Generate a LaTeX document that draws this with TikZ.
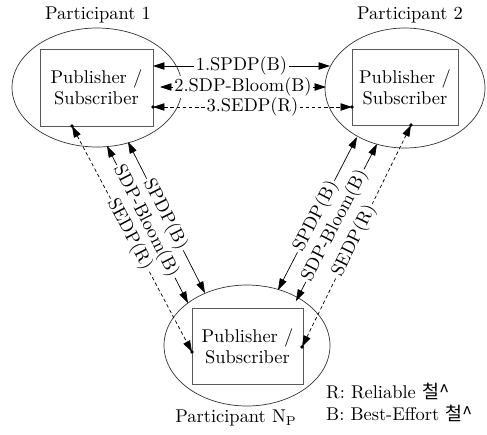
\documentclass[tikz,border=0pt]{standalone}
\usepackage{fontspec}
\newfontfamily\kor{Noto Sans CJK KR}
\usetikzlibrary{arrows.meta,shapes.geometric}

\begin{document}
\begin{tikzpicture}[x=0.02cm,y=-0.02cm,
    font=\fontsize{10.5}{12}\selectfont,
    part/.style={draw=black!80,thin,ellipse,inner sep=0pt},
    pubsub/.style={draw=black!65,thin,rectangle,align=center,inner sep=0pt},
    msg/.style={thin,{Triangle[length=6.5pt,width=4.2pt]}-{Triangle[length=6.5pt,width=4.2pt]}},
    ctl/.style={msg,dash pattern=on 2pt off 1.5pt},
    lbl/.style={fill=white,inner sep=1pt},
    slbl/.style={fill=white,inner xsep=1pt,inner ysep=0pt,sloped,pos=0.48},
    dot/.style={circle,fill=black,inner sep=0pt,minimum size=2.2pt}]

  \useasboundingbox (0,0) rectangle (487,434);

  % participants
  \node[part,minimum width=3.4cm,minimum height=2.38cm] (e1) at (97,87.5) {};
  \node[part,minimum width=3.2cm,minimum height=2.4cm] (e2) at (405,88) {};
  \node[part,minimum width=3.32cm,minimum height=2.42cm] (e3) at (247,345.5) {};

  \node[pubsub,minimum width=2.26cm,minimum height=1.54cm] (b1) at (96.5,87.5) {Publisher /\\Subscriber};
  \node[pubsub,minimum width=2.12cm,minimum height=1.52cm] (b2) at (405,87) {Publisher /\\Subscriber};
  \node[pubsub,minimum width=2.22cm,minimum height=1.52cm] (b3) at (247.5,346) {Publisher /\\Subscriber};

  \node (n1) at (98,15) {Participant 1};
  \node (n2) at (410,15) {Participant 2};
  \node (n3) at (236,418) {Participant N$_{\mathrm{P}}$};

  % end points on the borders
  \coordinate (h1a) at (153,66);   \coordinate (h1b) at (330,66);
  \coordinate (h2a) at (160,87);   \coordinate (h2b) at (326,87);
  \coordinate (h3a) at (153,107);  \coordinate (h3b) at (352,107);
  \coordinate (l1a) at (128,142);  \coordinate (l1b) at (205,293);
  \coordinate (l2a) at (107,146);  \coordinate (l2b) at (188,303);
  \coordinate (l3a) at (72,126);   \coordinate (l3b) at (192,352);
  \coordinate (r1a) at (278,290);  \coordinate (r1b) at (357,137);
  \coordinate (r2a) at (296,301);  \coordinate (r2b) at (377,144);
  \coordinate (r3a) at (302,347);  \coordinate (r3b) at (411,125);

  % participant 1 <-> participant 2
  \draw[msg] (h1a) -- node[lbl] (t1) {1.SPDP(B)} (h1b);
  \draw[msg] (h2a) -- node[lbl] (t2) {2.SDP-Bloom(B)} (h2b);
  \draw[ctl] (h3a) -- node[lbl] (t3) {3.SEDP(R)} (h3b);

  % participant 1 <-> participant N
  \draw[msg] (l1a) -- node[slbl] (t4) {SPDP(B)} (l1b);
  \draw[msg] (l2a) -- node[slbl] (t5) {SDP-Bloom(B)} (l2b);
  \draw[ctl] (l3a) -- node[slbl] (t6) {SEDP(R)} (l3b);

  % participant N <-> participant 2
  \draw[msg] (r1a) -- node[slbl] (t7) {SPDP(B)} (r1b);
  \draw[msg] (r2a) -- node[slbl] (t8) {SDP-Bloom(B)} (r2b);
  \draw[ctl] (r3a) -- node[slbl] (t9) {SEDP(R)} (r3b);

  \foreach \p in {h3a,h3b,l3a,l3b,r3a,r3b}
    \node[dot] at (\p) {};

  % legend
  \node[anchor=base west] (k1) at (320,398) {R: Reliable {\kor 철\textasciicircum}};
  \node[anchor=base west] (k2) at (320,420) {B: Best-Effort {\kor 철\textasciicircum}};
\end{tikzpicture}
\end{document}
